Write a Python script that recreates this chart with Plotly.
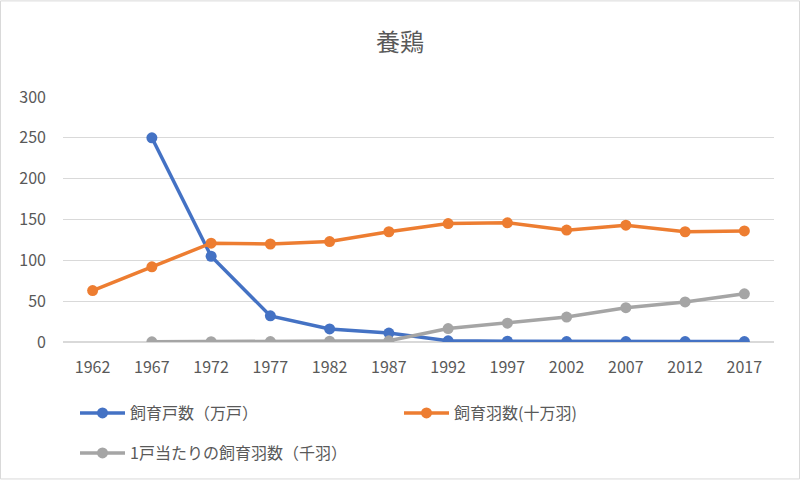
import plotly.graph_objects as go

years = ["1962", "1967", "1972", "1977", "1982", "1987", "1992", "1997", "2002", "2007", "2012", "2017"]
households = [None, 250, 105, 32, 16, 11, 1.5, 1, 0.5, 0.5, 0.5, 0.5]
birds = [63, 92, 121, 120, 123, 135, 145, 146, 137, 143, 135, 136]
per_household = [None, 0.2, 0.3, 0.5, 1.0, 1.5, 16.5, 23, 30.5, 42, 49, 59]

names = ["飼育戸数（万戸）", "飼育羽数(十万羽)", "1戸当たりの飼育羽数（千羽）"]
colors = ["#4472C4", "#ED7D31", "#A5A5A5"]
series = [households, birds, per_household]
legends = ["legend", "legend", "legend2"]

fig = go.Figure()
for n, c, s, lg in zip(names, colors, series, legends):
    fig.add_trace(go.Scatter(
        x=years, y=s, name=n, mode="lines+markers",
        line=dict(color=c, width=3.5),
        marker=dict(color=c, size=11),
        connectgaps=False, legend=lg,
    ))

font_family = "Noto Sans CJK JP, Noto Sans, sans-serif"
legend_common = dict(orientation="h", xanchor="left", yanchor="middle",
                     font=dict(size=16, color="#595959", family=font_family),
                     itemwidth=45, bgcolor="rgba(0,0,0,0)")
fig.update_layout(
    width=800, height=481,
    paper_bgcolor="white", plot_bgcolor="white",
    margin=dict(l=63, r=26, t=97, b=138),
    title=dict(text="養鶏", x=0.5, xanchor="center", y=0.912, yanchor="middle",
               font=dict(family=font_family, size=24, color="#595959")),
    font=dict(family=font_family, color="#595959", size=16),
    xaxis=dict(type="category", range=[-0.5, 11.5], showgrid=False, showline=False, ticks="",
               ticklabelstandoff=14, tickfont=dict(size=16, color="#595959")),
    yaxis=dict(range=[0, 300], dtick=50, showgrid=True, gridcolor="#D9D9D9",
               gridwidth=1, zeroline=True, zerolinecolor="#D9D9D9",
               showline=False, ticks="", ticklabelstandoff=16,
               tickfont=dict(size=16, color="#595959")),
    legend=dict(x=12/711, y=-70/246, entrywidth=264, entrywidthmode="pixels", **legend_common),
    legend2=dict(x=12/711, y=-110/246, **legend_common),
    showlegend=True,
)
fig.add_shape(type="rect", xref="paper", yref="paper",
              x0=-62.5/711, x1=1 + 25.5/711, y0=-137.5/246, y1=1 + 96.5/246,
              line=dict(color="#D9D9D9", width=1), fillcolor="rgba(0,0,0,0)")
fig.write_html("out.html", config={"displayModeBar": False},
               post_script="document.body.style.margin='0px';")
